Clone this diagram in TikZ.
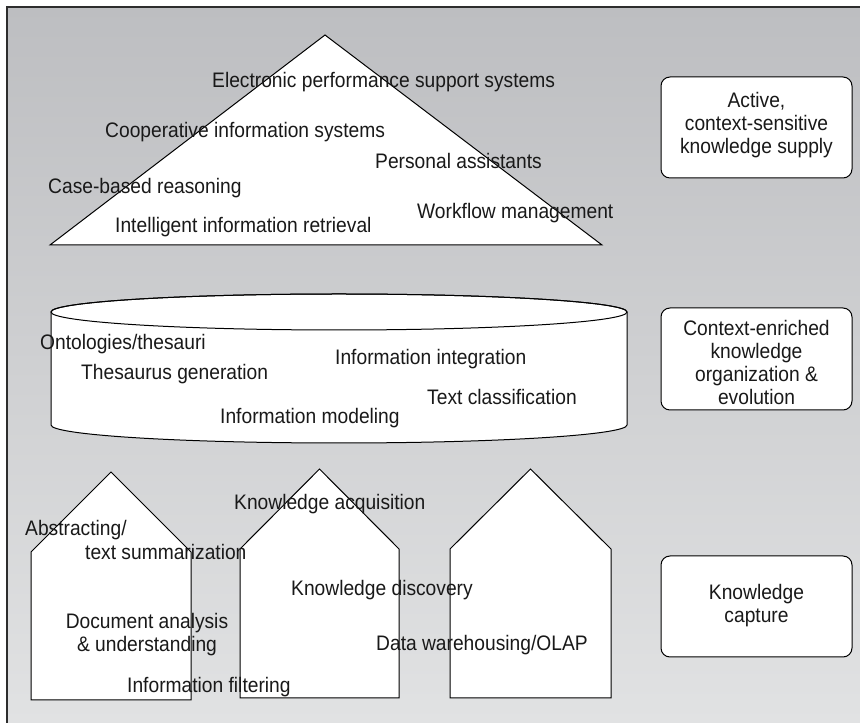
\documentclass[tikz,border=0pt]{standalone}
\usepackage{fontspec}
\setmainfont{Liberation Sans}[FakeStretch=0.915]
\begin{document}
\begin{tikzpicture}[x=1pt,y=1pt,
  txt/.style={font=\fontsize{21}{23}\selectfont, inner sep=0pt, text=black!90},
  lbl/.style={txt, anchor=base west},
  shapeline/.style={draw=black, line width=1pt, fill=white, line join=miter},
  infobox/.style={txt, draw=black, line width=1pt, fill=white, rounded corners=9pt, align=center}]
\useasboundingbox (0,0) rectangle (860,723);
\definecolor{bgtop}{RGB}{189,190,193}
\definecolor{bgbot}{RGB}{225,226,227}
\definecolor{frame}{RGB}{45,45,45}
\shade[top color=bgtop, bottom color=bgbot] (7,0) rectangle (860,716);
\draw[frame, line width=1.6pt] (7,0) -- (7,716) -- (860,716);

% pyramid
\coordinate (tA) at (325,688);
\coordinate (tL) at (50,478);
\coordinate (tR) at (602,478);
\draw[shapeline] (tA) -- (tL) -- (tR) -- cycle;

% cylinder
\draw[shapeline] (51,411) -- (51,298) arc[start angle=180, end angle=360, x radius=288, y radius=18] -- (627,411) arc[start angle=0, end angle=180, x radius=288, y radius=18] -- cycle;
\draw[draw=black, line width=1pt] (339,411) ellipse [x radius=288, y radius=18];

% houses
\draw[shapeline] (31,23) -- (31,171) -- (111,251) -- (191,171) -- (191,23) -- cycle;
\draw[shapeline] (240,25) -- (240,174) -- (319.5,254) -- (399,174) -- (399,25) -- cycle;
\draw[shapeline] (450,25) -- (450,174) -- (530.5,254) -- (611,174) -- (611,25) -- cycle;

% right-hand boxes
\node[infobox, minimum width=191pt, minimum height=101pt] (b1) at (756.5,595.5) {};
\node[txt, align=center] (b1t) at (756.5,598) {Active,\\context-sensitive\\knowledge supply};
\node[infobox, minimum width=191pt, minimum height=102pt] (b2) at (756.5,364) {};
\node[txt, align=center] (b2t) at (756.5,361) {Context-enriched\\knowledge\\organization \&\\evolution};
\node[infobox, minimum width=191pt, minimum height=101pt] (b3) at (756.5,116.5) {};
\node[txt, align=center] (b3t) at (756.5,117) {Knowledge\\capture};

% pyramid labels
\node[lbl] (e1) at (212,635) {Electronic performance support systems};
\node[lbl] (e2) at (105,585) {Cooperative information systems};
\node[lbl] (e3) at (375,554) {Personal assistants};
\node[lbl] (e4) at (48,529) {Case-based reasoning};
\node[lbl] (e5) at (417,504) {Workflow management};
\node[lbl] (e6) at (115,490) {Intelligent information retrieval};

% cylinder labels
\node[lbl] (c1) at (40,373) {Ontologies/thesauri};
\node[lbl] (c2) at (335,358) {Information integration};
\node[lbl] (c3) at (81,343) {Thesaurus generation};
\node[lbl] (c4) at (427,318) {Text classification};
\node[lbl] (c5) at (220,299) {Information modeling};

% house labels
\node[lbl] (h1) at (234,213) {Knowledge acquisition};
\node[lbl] (h2) at (25,187) {Abstracting/};
\node[lbl] (h3) at (85,163) {text summarization};
\node[lbl] (h4) at (291,127) {Knowledge discovery};
\node[txt, align=center] (h5) at (147,88) {Document analysis\\\& understanding};
\node[lbl] (h6) at (376,72) {Data warehousing/OLAP};
\node[lbl] (h7) at (127,30) {Information filtering};
\end{tikzpicture}
\end{document}
